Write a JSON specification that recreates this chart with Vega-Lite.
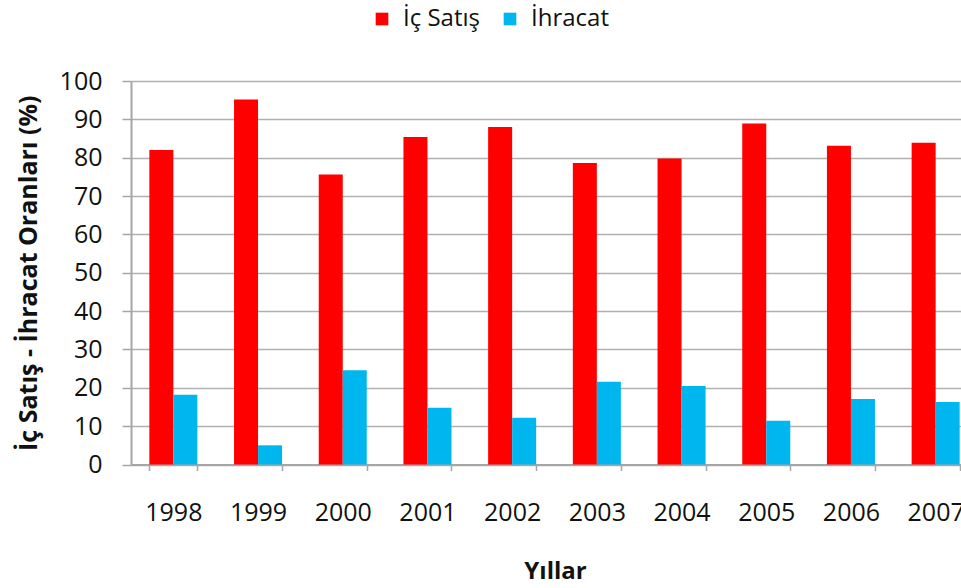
{
  "$schema": "https://vega.github.io/schema/vega-lite/v6.json",
  "autosize": "none",
  "width": 830,
  "height": 383.5,
  "padding": {"left": 131, "top": 81, "right": 0, "bottom": 123.5},
  "background": "white",
  "data": {"values": [
    {"yil": "1998", "seri": "İç Satış", "oran": 82.0},
    {"yil": "1998", "seri": "İhracat", "oran": 18.2},
    {"yil": "1999", "seri": "İç Satış", "oran": 95.2},
    {"yil": "1999", "seri": "İhracat", "oran": 5.0},
    {"yil": "2000", "seri": "İç Satış", "oran": 75.6},
    {"yil": "2000", "seri": "İhracat", "oran": 24.6},
    {"yil": "2001", "seri": "İç Satış", "oran": 85.4},
    {"yil": "2001", "seri": "İhracat", "oran": 14.8},
    {"yil": "2002", "seri": "İç Satış", "oran": 88.0},
    {"yil": "2002", "seri": "İhracat", "oran": 12.2},
    {"yil": "2003", "seri": "İç Satış", "oran": 78.6},
    {"yil": "2003", "seri": "İhracat", "oran": 21.6},
    {"yil": "2004", "seri": "İç Satış", "oran": 79.8},
    {"yil": "2004", "seri": "İhracat", "oran": 20.5},
    {"yil": "2005", "seri": "İç Satış", "oran": 88.9},
    {"yil": "2005", "seri": "İhracat", "oran": 11.4},
    {"yil": "2006", "seri": "İç Satış", "oran": 83.1},
    {"yil": "2006", "seri": "İhracat", "oran": 17.1},
    {"yil": "2007", "seri": "İç Satış", "oran": 83.9},
    {"yil": "2007", "seri": "İhracat", "oran": 16.3}
  ]},
  "mark": {"type": "bar"},
  "encoding": {
    "x": {
      "field": "yil", "type": "nominal", "title": "Yıllar",
      "scale": {"range": [0, 847], "paddingInner": 0.433, "paddingOuter": 0.2165},
      "axis": {
        "labelAngle": 0, "labelFont": "Open Sans", "labelFontSize": 25, "labelColor": "#111",
        "labelPadding": 30, "tickSize": 6, "tickColor": "#a6a6a6", "tickWidth": 1.5,
        "domainColor": "#a6a6a6", "domainWidth": 2, "tickBand": "extent",
        "titleFont": "Open Sans", "titleFontSize": 24, "titleFontWeight": "bold", "titleColor": "#111",
        "titlePadding": 34, "titleX": 424
      }
    },
    "xOffset": {"field": "seri", "type": "nominal", "sort": ["İç Satış", "İhracat"], "scale": {"paddingInner": 0, "paddingOuter": 0}},
    "y": {
      "field": "oran", "type": "quantitative", "title": "İç Satış - İhracat Oranları (%)",
      "scale": {"domain": [0, 100], "nice": false},
      "axis": {
        "values": [0, 10, 20, 30, 40, 50, 60, 70, 80, 90, 100],
        "labelFont": "Open Sans", "labelFontSize": 25, "labelColor": "#111",
        "tickSize": 9, "tickColor": "#a6a6a6", "tickWidth": 1.5, "labelPadding": 20,
        "domainColor": "#a6a6a6", "domainWidth": 2,
        "grid": true, "gridColor": "#b0b0b0", "gridWidth": 1.5,
        "titleFont": "Open Sans", "titleFontSize": 25, "titleFontWeight": "bold", "titleColor": "#111",
        "titlePadding": 18
      }
    },
    "color": {
      "field": "seri", "type": "nominal", "sort": ["İç Satış", "İhracat"],
      "scale": {"domain": ["İç Satış", "İhracat"], "range": ["#ff0000", "#00b6ef"]},
      "legend": {
        "title": null, "orient": "none", "direction": "horizontal",
        "legendX": 239, "legendY": -74, "padding": 0,
        "symbolType": "square", "symbolSize": 160, "symbolStrokeWidth": 0,
        "labelFont": "Open Sans", "labelFontSize": 24, "labelColor": "#111",
        "labelOffset": 9, "columnPadding": 18
      }
    }
  },
  "config": {"view": {"stroke": null}}
}
